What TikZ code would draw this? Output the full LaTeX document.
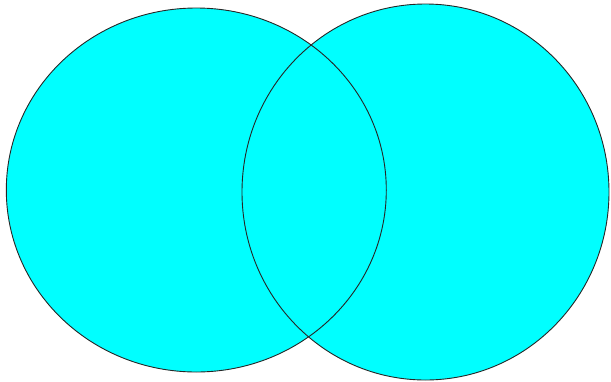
\documentclass[tikz,border=0pt]{standalone}
\begin{document}
\begin{tikzpicture}[x=1pt,y=-1pt]
\useasboundingbox (0,0) rectangle (611,381);
\definecolor{venncyan}{RGB}{0,255,255}
\tikzset{vennfill/.style={fill=venncyan,draw=none},vennline/.style={draw=black!85,line width=0.9pt}}
\fill[venncyan] (196.3,190) ellipse [x radius=190, y radius=182];
\fill[venncyan] (425.5,192) ellipse [x radius=183.5, y radius=188];
\draw[vennline] (196.3,190) ellipse [x radius=190, y radius=182];
\draw[vennline] (425.5,192) ellipse [x radius=183.5, y radius=188];
\end{tikzpicture}
\end{document}
